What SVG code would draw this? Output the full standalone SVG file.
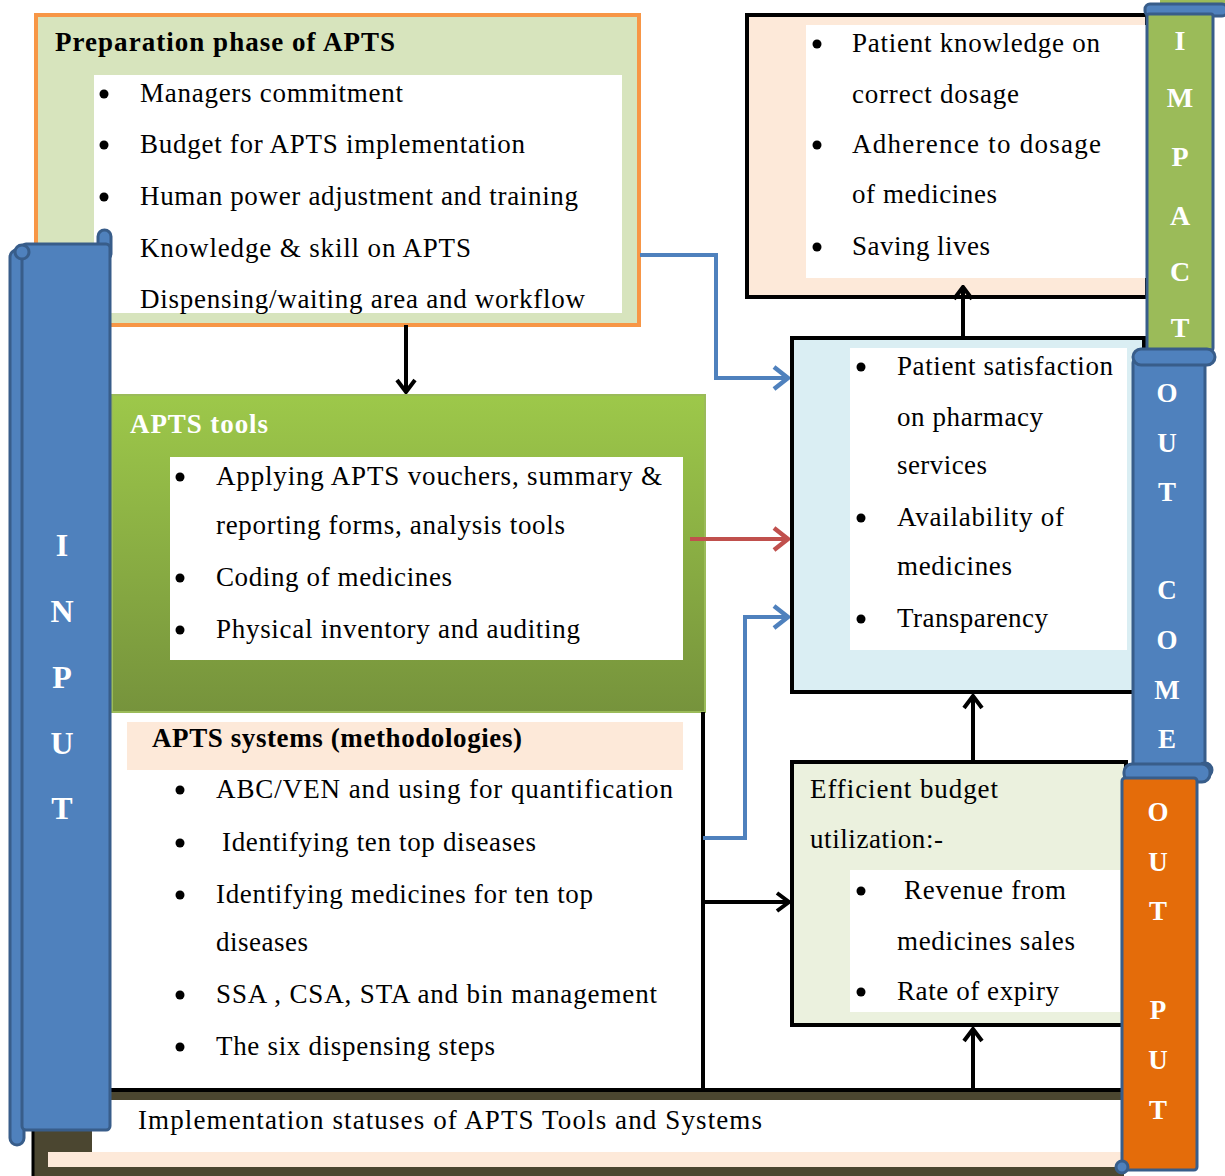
<svg xmlns="http://www.w3.org/2000/svg" width="1225" height="1176" viewBox="0 0 1225 1176">
<style>
.t{font-family:'Liberation Serif','Times New Roman',serif;font-size:27px;fill:#000}
.b{font-weight:bold}
.w{fill:#fff}
.bar{font-family:'Liberation Serif','Times New Roman',serif;font-weight:bold;fill:#fff;text-anchor:middle}
.k{stroke:#000;stroke-width:4;fill:none}
.blu{stroke:#4F81BD;stroke-width:4;fill:none}
.red{stroke:#C0504D;stroke-width:4;fill:none}
.scroll{stroke:#385D8A;stroke-width:3}
</style>
<defs>
<linearGradient id="gg" x1="0" y1="0" x2="0" y2="1">
<stop offset="0" stop-color="#9DC84A"/>
<stop offset="1" stop-color="#76933C"/>
</linearGradient>
<marker id="mk" markerUnits="userSpaceOnUse" markerWidth="16" markerHeight="22" viewBox="0 0 16 22" refX="14" refY="11" orient="auto">
<path d="M2,2 L14,11 L2,20" fill="none" stroke="#000" stroke-width="4"/>
</marker>
<marker id="mb" markerUnits="userSpaceOnUse" markerWidth="18" markerHeight="26" viewBox="0 0 18 26" refX="16" refY="13" orient="auto">
<path d="M2,2 L16,13 L2,24" fill="none" stroke="#4F81BD" stroke-width="4.5"/>
</marker>
<marker id="mr" markerUnits="userSpaceOnUse" markerWidth="18" markerHeight="26" viewBox="0 0 18 26" refX="16" refY="13" orient="auto">
<path d="M2,2 L16,13 L2,24" fill="none" stroke="#C0504D" stroke-width="4.5"/>
</marker>
</defs>
<rect width="1225" height="1176" fill="#fff"/>

<g id="implementation">
<rect x="32" y="1090" width="1092" height="86" fill="#4B4630"/>
<rect x="92" y="1100" width="1032" height="52" fill="#fff"/>
<rect x="48" y="1152" width="1076" height="15" fill="#FDE9D9"/>
<line x1="33" y1="1100" x2="33" y2="1176" stroke="#000" stroke-width="3"/>
<text class="t" x="138" y="1129" textLength="624" lengthAdjust="spacing">Implementation statuses  of  APTS Tools and Systems</text>
</g>

<g id="preparation">
<rect x="36" y="15" width="603" height="310" fill="#D7E4BD" stroke="#F79646" stroke-width="4"/>
<rect x="94" y="75" width="528" height="238" fill="#fff"/>
<text class="t b" x="55" y="51" textLength="340" lengthAdjust="spacing">Preparation phase of APTS</text>
<circle cx="104" cy="94" r="4.5"/><circle cx="104" cy="145" r="4.5"/><circle cx="104" cy="197" r="4.5"/>
<text class="t" x="140" y="102" textLength="263" lengthAdjust="spacing">Managers commitment</text>
<text class="t" x="140" y="153" textLength="385" lengthAdjust="spacing">Budget for APTS implementation</text>
<text class="t" x="140" y="205" textLength="438" lengthAdjust="spacing">Human power adjustment and training</text>
<text class="t" x="140" y="257" textLength="331" lengthAdjust="spacing">Knowledge &amp; skill  on APTS</text>
<text class="t" x="140" y="308" textLength="445" lengthAdjust="spacing">Dispensing/waiting  area and workflow</text>
</g>

<g id="apts-tools">
<rect x="112" y="395" width="593" height="317" fill="url(#gg)" stroke="#9BBB59" stroke-width="2"/>
<rect x="170" y="457" width="513" height="203" fill="#fff"/>
<text class="t b w" x="130" y="433" font-size="26" textLength="138" lengthAdjust="spacing">APTS tools</text>
<circle cx="180" cy="477" r="4.5"/><circle cx="180" cy="578" r="4.5"/><circle cx="180" cy="630" r="4.5"/>
<text class="t" x="216" y="485" textLength="446" lengthAdjust="spacing">Applying APTS vouchers, summary  &amp;</text>
<text class="t" x="216" y="534" textLength="349" lengthAdjust="spacing">reporting forms, analysis  tools</text>
<text class="t" x="216" y="586" textLength="236" lengthAdjust="spacing">Coding of medicines</text>
<text class="t" x="216" y="638" textLength="364" lengthAdjust="spacing">Physical inventory and auditing</text>
</g>

<g id="apts-systems">
<rect x="127" y="722" width="556" height="48" fill="#FDE9D9"/>
<text class="t b" x="152" y="747" textLength="370" lengthAdjust="spacing">APTS systems (methodologies)</text>
<circle cx="180" cy="790" r="4.5"/><circle cx="180" cy="843" r="4.5"/><circle cx="180" cy="895" r="4.5"/><circle cx="180" cy="995" r="4.5"/><circle cx="180" cy="1047" r="4.5"/>
<text class="t" x="216" y="798" textLength="457" lengthAdjust="spacing">ABC/VEN  and using for quantification</text>
<text class="t" x="222" y="851" textLength="314" lengthAdjust="spacing">Identifying ten top diseases</text>
<text class="t" x="216" y="903" textLength="377" lengthAdjust="spacing">Identifying medicines for ten top</text>
<text class="t" x="216" y="951" textLength="92" lengthAdjust="spacing">diseases</text>
<text class="t" x="216" y="1003" textLength="441" lengthAdjust="spacing">SSA , CSA, STA and bin management</text>
<text class="t" x="216" y="1055" textLength="279" lengthAdjust="spacing">The six  dispensing steps</text>
</g>

<g id="impact-box">
<rect x="747" y="15" width="400" height="282" fill="#FDE9D9" stroke="#000" stroke-width="4"/>
<rect x="806" y="25" width="340" height="253" fill="#fff"/>
<circle cx="817" cy="44" r="4.5"/><circle cx="817" cy="145" r="4.5"/><circle cx="817" cy="247" r="4.5"/>
<text class="t" x="852" y="52" textLength="248" lengthAdjust="spacing">Patient knowledge on</text>
<text class="t" x="852" y="103" textLength="167" lengthAdjust="spacing">correct  dosage</text>
<text class="t" x="852" y="153" textLength="249" lengthAdjust="spacing">Adherence to  dosage</text>
<text class="t" x="852" y="203" textLength="145" lengthAdjust="spacing">of medicines</text>
<text class="t" x="852" y="255" textLength="138" lengthAdjust="spacing">Saving lives</text>
</g>

<g id="outcome-box">
<rect x="792" y="338" width="352" height="354" fill="#DAEEF3" stroke="#000" stroke-width="4"/>
<rect x="850" y="348" width="277" height="302" fill="#fff"/>
<circle cx="861" cy="367" r="4.5"/><circle cx="861" cy="518" r="4.5"/><circle cx="861" cy="619" r="4.5"/>
<text class="t" x="897" y="375" textLength="216" lengthAdjust="spacing">Patient satisfaction</text>
<text class="t" x="897" y="426" textLength="146" lengthAdjust="spacing">on pharmacy</text>
<text class="t" x="897" y="474" textLength="90" lengthAdjust="spacing">services</text>
<text class="t" x="897" y="526" textLength="167" lengthAdjust="spacing">Availability  of</text>
<text class="t" x="897" y="575" textLength="115" lengthAdjust="spacing">medicines</text>
<text class="t" x="897" y="627" textLength="151" lengthAdjust="spacing">Transparency</text>
</g>

<g id="budget-box">
<rect x="792" y="762" width="334" height="263" fill="#EBF1DE" stroke="#000" stroke-width="4"/>
<rect x="850" y="870" width="270" height="142" fill="#fff"/>
<text class="t" x="810" y="798" textLength="188" lengthAdjust="spacing">Efficient budget</text>
<text class="t" x="810" y="848" textLength="133" lengthAdjust="spacing">utilization:-</text>
<circle cx="861" cy="891" r="4.5"/><circle cx="861" cy="992" r="4.5"/>
<text class="t" x="904" y="899" textLength="162" lengthAdjust="spacing">Revenue from</text>
<text class="t" x="897" y="950" textLength="178" lengthAdjust="spacing">medicines sales</text>
<text class="t" x="897" y="1000" textLength="162" lengthAdjust="spacing">Rate of expiry</text>
</g>

<g id="connectors">
<line class="k" x1="406" y1="325" x2="406" y2="392" marker-end="url(#mk)"/>
<line class="k" x1="703" y1="712" x2="703" y2="1090"/>
<line class="k" x1="108" y1="1090" x2="1124" y2="1090"/>
<line class="k" x1="703" y1="902" x2="789" y2="902" marker-end="url(#mk)"/>
<line class="k" x1="973" y1="1090" x2="973" y2="1029" marker-end="url(#mk)"/>
<line class="k" x1="973" y1="762" x2="973" y2="696" marker-end="url(#mk)"/>
<line class="k" x1="963" y1="338" x2="963" y2="287" marker-end="url(#mk)"/>
<polyline class="blu" points="640,255 716,255 716,378 788,378" marker-end="url(#mb)"/>
<polyline class="blu" points="703,838 745,838 745,617 788,617" marker-end="url(#mb)"/>
<line class="red" x1="690" y1="539" x2="788" y2="539" marker-end="url(#mr)"/>
</g>

<g id="input-bar">
<rect class="scroll" x="10" y="250" width="14" height="895" rx="7" fill="#4F81BD"/>
<rect class="scroll" x="98" y="230" width="13" height="30" rx="6.5" fill="#4F81BD"/>
<rect class="scroll" x="22" y="244" width="88" height="886" rx="4" fill="#4F81BD"/>
<circle class="scroll" cx="22" cy="252" r="7" fill="#4F81BD"/>
<text class="bar" x="62" y="556" font-size="32">I</text>
<text class="bar" x="62" y="622" font-size="32">N</text>
<text class="bar" x="62" y="688" font-size="32">P</text>
<text class="bar" x="62" y="754" font-size="32">U</text>
<text class="bar" x="62" y="819" font-size="32">T</text>
</g>

<g id="impact-bar">
<rect x="1160" y="0" width="65" height="6" fill="#9BBB59"/>
<rect class="scroll" x="1145" y="4" width="82" height="12" rx="5" fill="#4F81BD"/>
<rect class="scroll" x="1147" y="14" width="66" height="336" rx="2" fill="#9BBB59"/>
<text class="bar" x="1180" y="50" font-size="28">I</text>
<text class="bar" x="1180" y="107" font-size="28">M</text>
<text class="bar" x="1180" y="166" font-size="28">P</text>
<text class="bar" x="1180" y="225" font-size="28">A</text>
<text class="bar" x="1180" y="281" font-size="28">C</text>
<text class="bar" x="1180" y="337" font-size="28">T</text>
</g>

<g id="outcome-bar">
<rect class="scroll" x="1133" y="360" width="72" height="415" rx="3" fill="#4F81BD"/>
<rect class="scroll" x="1133" y="349" width="82" height="16" rx="8" fill="#4F81BD"/>
<circle class="scroll" cx="1205" cy="770" r="7" fill="#4F81BD"/>
<text class="bar" x="1167" y="402" font-size="27">O</text>
<text class="bar" x="1167" y="452" font-size="27">U</text>
<text class="bar" x="1167" y="501" font-size="27">T</text>
<text class="bar" x="1167" y="599" font-size="27">C</text>
<text class="bar" x="1167" y="649" font-size="27">O</text>
<text class="bar" x="1167" y="699" font-size="27">M</text>
<text class="bar" x="1167" y="748" font-size="27">E</text>
</g>

<g id="output-bar">
<rect class="scroll" x="1124" y="764" width="86" height="18" rx="8" fill="#4F81BD"/>
<rect class="scroll" x="1122" y="778" width="75" height="392" rx="3" fill="#E46C0A"/>
<circle class="scroll" cx="1122" cy="1167" r="6" fill="#4F81BD"/>
<text class="bar" x="1158" y="821" font-size="27">O</text>
<text class="bar" x="1158" y="871" font-size="27">U</text>
<text class="bar" x="1158" y="920" font-size="27">T</text>
<text class="bar" x="1158" y="1019" font-size="27">P</text>
<text class="bar" x="1158" y="1069" font-size="27">U</text>
<text class="bar" x="1158" y="1119" font-size="27">T</text>
</g>
</svg>
